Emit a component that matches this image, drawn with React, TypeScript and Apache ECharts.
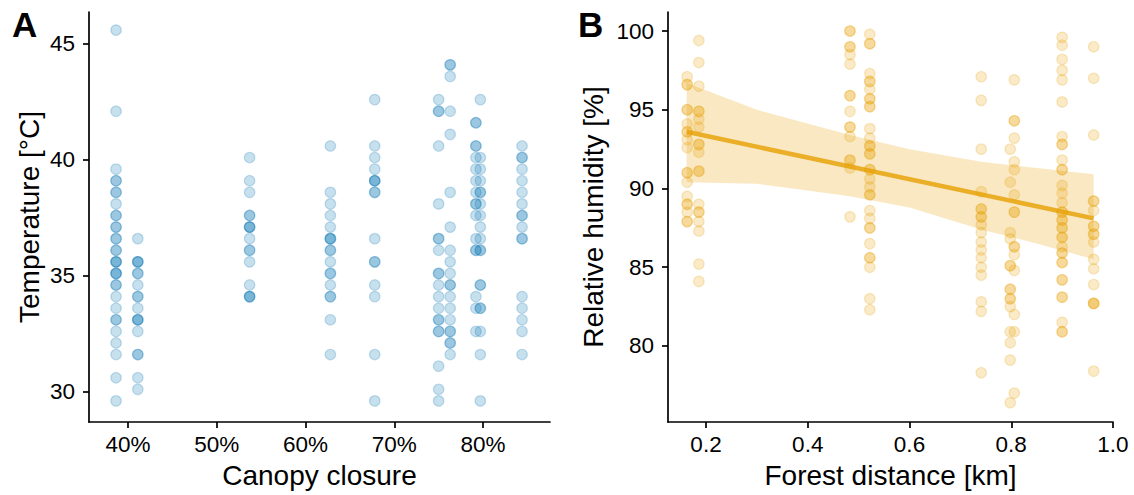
import React, { useEffect, useRef } from "react";
import * as echarts from "echarts";

// ---- Panel A: canopy closure (%) vs temperature (°C)
const canopyPercent = [38.65, 41.1, 53.7, 62.8, 67.8, 75.0, 76.3, 79.2, 79.7, 84.4];
const temperatureByPlot = [
  [45.6, 42.1, 39.6, 39.1, 39.1, 38.6, 38.6, 38.1, 37.6, 37.6, 37.1, 37.1, 36.6, 36.6, 36.1, 36.1, 35.6, 35.6, 35.6, 35.1, 35.1, 35.1, 34.6, 34.6, 34.1, 33.6, 33.1, 33.1, 32.6, 32.1, 31.6, 30.6, 29.6],
  [36.6, 35.6, 35.6, 35.6, 35.1, 35.1, 34.6, 34.1, 34.1, 33.6, 33.1, 33.1, 33.1, 32.6, 31.6, 31.6, 30.6, 30.1],
  [40.1, 39.1, 38.6, 37.6, 37.6, 37.1, 37.1, 37.1, 36.6, 36.1, 36.1, 35.6, 34.6, 34.1, 34.1, 34.1],
  [40.6, 38.6, 38.1, 37.6, 37.1, 36.6, 36.6, 36.6, 36.1, 36.1, 35.6, 35.1, 35.1, 34.6, 34.1, 34.1, 33.1, 31.6],
  [42.6, 40.6, 40.1, 39.6, 39.1, 39.1, 39.1, 38.6, 38.6, 36.6, 35.6, 35.6, 34.6, 34.1, 31.6, 29.6],
  [42.6, 42.1, 42.1, 40.6, 38.1, 36.6, 36.6, 36.1, 35.1, 35.1, 34.6, 34.1, 33.6, 33.1, 33.1, 32.6, 32.6, 31.1, 30.1, 29.6],
  [44.1, 44.1, 43.6, 42.1, 41.1, 38.6, 37.1, 36.1, 35.6, 35.1, 34.6, 34.6, 34.1, 33.6, 33.1, 32.6, 32.6, 32.1, 32.1, 31.6],
  [41.6, 41.6, 40.6, 40.6, 40.1, 39.6, 39.1, 38.6, 38.1, 38.1, 37.6, 36.6, 36.1, 36.1, 34.1, 33.6, 32.6],
  [42.6, 40.1, 39.6, 39.1, 38.6, 38.6, 38.1, 37.6, 37.1, 36.6, 36.1, 36.1, 34.6, 34.6, 33.6, 33.6, 32.6, 31.6, 29.6],
  [40.6, 40.1, 40.1, 39.6, 39.1, 38.6, 38.1, 37.6, 37.6, 37.1, 36.6, 36.6, 34.1, 33.6, 33.1, 32.6, 31.6],
];
const canopyTicks = [40, 50, 60, 70, 80];
const temperatureTicks = [30, 35, 40, 45];

// ---- Panel B: forest distance (km) vs relative humidity (%)
const distanceKm = [0.163, 0.186, 0.483, 0.522, 0.741, 0.798, 0.806, 0.9, 0.962];
const humidityByPlot = [
  [97.1, 96.6, 96.6, 95.0, 95.0, 94.1, 93.6, 93.6, 93.1, 92.6, 91.0, 91.0, 90.4, 89.5, 89.0, 89.0, 88.5, 87.9, 87.9],
  [99.4, 98.0, 96.5, 94.9, 94.9, 94.4, 93.9, 92.8, 92.8, 92.3, 91.1, 91.1, 89.0, 88.5, 88.5, 87.9, 87.3, 85.2, 84.1],
  [100.0, 100.0, 99.0, 99.0, 98.5, 97.9, 95.9, 95.9, 94.9, 93.9, 93.9, 93.3, 91.8, 91.8, 91.3, 88.2],
  [99.8, 99.2, 99.2, 97.3, 96.8, 96.8, 96.3, 95.7, 95.7, 95.2, 95.2, 93.8, 93.2, 92.7, 92.7, 92.2, 92.2, 91.2, 91.2, 90.6, 90.1, 89.6, 89.6, 88.6, 88.1, 87.5, 87.5, 86.5, 85.6, 85.6, 85.0, 83.0, 82.3],
  [97.1, 95.6, 92.5, 89.8, 88.7, 88.7, 88.2, 88.2, 87.7, 87.2, 86.6, 86.1, 85.6, 85.0, 84.5, 82.8, 82.2, 78.3],
  [92.5, 90.4, 87.2, 86.8, 85.1, 85.1, 83.6, 83.6, 83.0, 83.0, 82.5, 80.9, 80.2, 79.1, 76.4],
  [96.9, 94.3, 94.3, 93.2, 91.7, 91.2, 89.6, 88.5, 88.5, 86.3, 86.3, 85.8, 84.8, 82.0, 80.9, 77.0],
  [99.6, 99.1, 98.2, 97.5, 96.9, 95.5, 93.3, 92.8, 92.8, 91.8, 91.2, 91.2, 90.2, 89.7, 89.1, 88.5, 88.5, 88.0, 88.0, 87.5, 87.5, 86.9, 86.9, 86.3, 85.9, 85.9, 85.3, 85.3, 84.2, 84.2, 83.1, 83.1, 81.5, 80.9, 80.9],
  [99.0, 97.0, 93.4, 89.2, 89.2, 88.6, 87.6, 87.6, 87.1, 87.1, 86.6, 85.5, 84.9, 83.9, 82.7, 82.7, 82.7, 78.4],
];
const distanceTicks = [0.2, 0.4, 0.6, 0.8, 1.0];
const humidityTicks = [80, 85, 90, 95, 100];

// fitted trend and its confidence band
const trendX = [0.162, 0.962];
const trendY = [93.6, 88.1];
const bandX = [0.162, 0.3, 0.483, 0.6, 0.741, 0.85, 0.962];
const bandUpper = [96.7, 95.0, 93.4, 92.5, 91.7, 91.3, 90.9];
const bandLower = [90.4, 90.3, 89.5, 88.8, 87.4, 86.5, 85.5];

const FONT = "'Liberation Sans', Arial, sans-serif";
const BLUE = "rgba(0,114,178,0.22)";
const ORANGE = "rgba(230,159,0,0.22)";

function toPairs(xs: number[], ys: number[][]) {
  const out: number[][] = [];
  xs.forEach((x, i) => ys[i].forEach((y) => out.push([x, y])));
  return out;
}

function axisBase(ticks: number[], fmt: (v: number) => string, margin: number) {
  return {
    type: "value" as const,
    axisLine: { show: true, onZero: false, lineStyle: { color: "#000", width: 1.7 } },
    axisTick: { show: true, length: 6, lineStyle: { color: "#000", width: 1.7 }, customValues: ticks },
    axisLabel: {
      color: "#000",
      fontSize: 22.5,
      fontFamily: FONT,
      margin,
      customValues: ticks,
      formatter: (v: number) => fmt(v),
    },
    splitLine: { show: false },
    nameLocation: "middle" as const,
    nameTextStyle: { color: "#000", fontSize: 28, fontFamily: FONT },
  };
}

export default function App() {
  const ref = useRef<HTMLDivElement>(null);
  useEffect(() => {
    const chart = echarts.init(ref.current!, null, { renderer: "svg" });
    const option: any = {
      animation: false,
      backgroundColor: "#fff",
      grid: [
        { left: 89, top: 12, width: 461, height: 410 },
        { left: 668, top: 12, width: 445, height: 410 },
      ],
      xAxis: [
        {
          ...axisBase(canopyTicks, (v) => `${v}%`, 11),
          gridIndex: 0,
          min: 35.6,
          max: 87.55,
          name: "Canopy closure",
          nameGap: 39,
        },
        {
          ...axisBase(distanceTicks, (v) => v.toFixed(1), 11),
          gridIndex: 1,
          min: 0.1253,
          max: 1.0,
          name: "Forest distance [km]",
          nameGap: 39,
        },
      ],
      yAxis: [
        {
          ...axisBase(temperatureTicks, (v) => `${v}`, 14),
          gridIndex: 0,
          min: 28.69,
          max: 46.38,
          name: "Temperature [°C]",
          nameGap: 46,
        },
        {
          ...axisBase(humidityTicks, (v) => `${v}`, 14),
          gridIndex: 1,
          min: 75.17,
          max: 101.21,
          name: "Relative humidity [%]",
          nameGap: 61,
        },
      ],
      graphic: [
        { type: "text", left: 12, top: 7, style: { text: "A", font: `bold 35px ${FONT}`, fill: "#000" } },
        { type: "text", left: 578, top: 7, style: { text: "B", font: `bold 35px ${FONT}`, fill: "#000" } },
      ],
      series: [
        {
          type: "scatter",
          xAxisIndex: 0,
          yAxisIndex: 0,
          symbol: "circle",
          symbolSize: 10.5,
          data: toPairs(canopyPercent, temperatureByPlot),
          itemStyle: { color: BLUE, borderColor: BLUE, borderWidth: 1.2, opacity: 1 },
          silent: true,
        },
        {
          type: "custom",
          xAxisIndex: 1,
          yAxisIndex: 1,
          data: [[bandX[0], bandUpper[0]]],
          silent: true,
          renderItem: (_params: any, api: any) => {
            const pts: number[][] = [];
            bandX.forEach((x, i) => pts.push(api.coord([x, bandUpper[i]])));
            for (let i = bandX.length - 1; i >= 0; i--) pts.push(api.coord([bandX[i], bandLower[i]]));
            return {
              type: "polygon",
              shape: { points: pts },
              style: { fill: "rgba(230,159,0,0.24)", stroke: "none" },
            };
          },
          z: 1,
        },
        {
          type: "scatter",
          xAxisIndex: 1,
          yAxisIndex: 1,
          symbol: "circle",
          symbolSize: 10.5,
          data: toPairs(distanceKm, humidityByPlot),
          itemStyle: { color: ORANGE, borderColor: ORANGE, borderWidth: 1.2, opacity: 1 },
          silent: true,
          z: 2,
        },
        {
          type: "line",
          xAxisIndex: 1,
          yAxisIndex: 1,
          data: trendX.map((x, i) => [x, trendY[i]]),
          showSymbol: false,
          symbol: "none",
          lineStyle: { color: "rgba(230,159,0,0.8)", width: 4.5 },
          silent: true,
          z: 3,
        },
      ],
    };
    chart.setOption(option);
    return () => chart.dispose();
  }, []);
  return (
    <div
      ref={ref}
      style={{ position: "fixed", left: 0, top: 0, width: 1134, height: 495, background: "#fff" }}
    />
  );
}
